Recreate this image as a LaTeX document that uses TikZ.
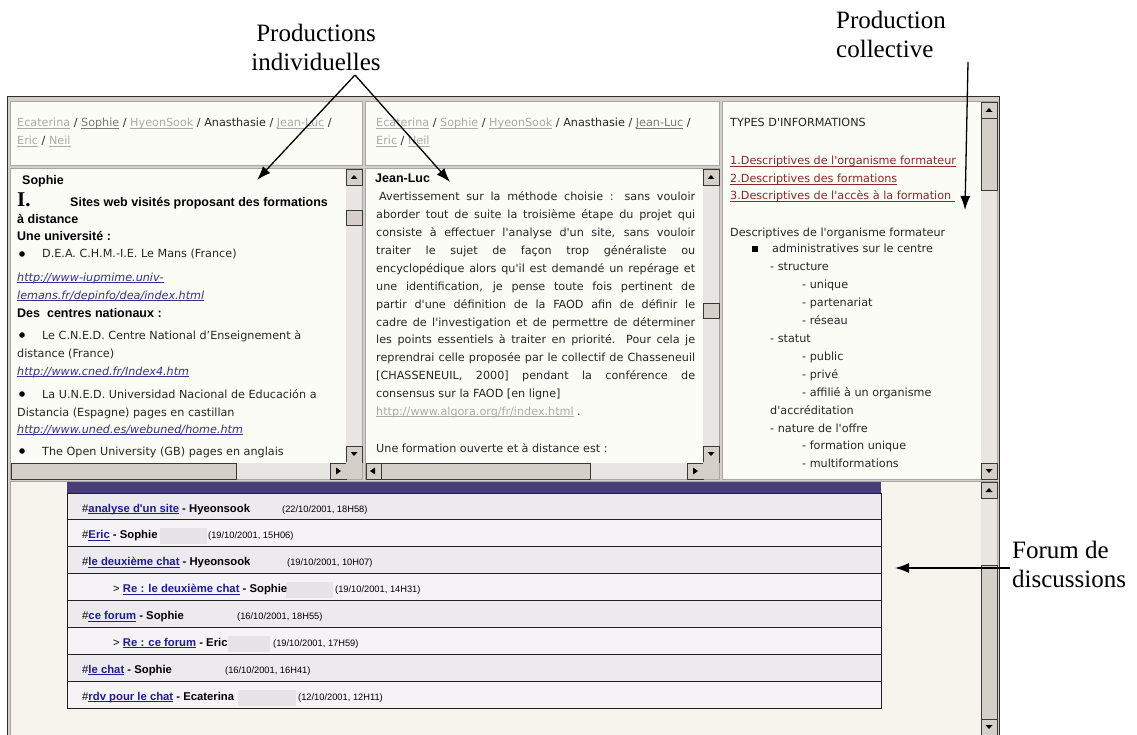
\documentclass[tikz,border=0pt]{standalone}
\usepackage{fontspec}
\newfontfamily\webf{DejaVu Sans}
\newfontfamily\arialf{Liberation Sans}
\newfontfamily\timesf{Liberation Serif}
\usetikzlibrary{arrows.meta}

\definecolor{panebg}{RGB}{252,252,246}
\definecolor{framegray}{RGB}{212,208,200}
\definecolor{trackgray}{RGB}{232,230,226}
\definecolor{linkblue}{RGB}{51,51,140}
\definecolor{linkred}{RGB}{140,40,40}
\definecolor{hdrlight}{RGB}{170,170,170}
\definecolor{hdrmid}{RGB}{120,120,120}
\definecolor{forumbar}{RGB}{72,62,122}
\definecolor{rowa}{RGB}{237,234,239}
\definecolor{rowb}{RGB}{246,243,247}
\definecolor{forumlink}{RGB}{28,28,150}
\definecolor{bottombg}{RGB}{245,245,238}
\definecolor{redact}{RGB}{230,228,231}

\newlength\ulw
\newcommand\ulk[2]{\settowidth\ulw{#2}\textcolor{#1}{\rlap{\rule[-1.6pt]{\ulw}{.7pt}}#2}}
\newcommand\jl[1]{\makebox[319pt][s]{#1}}

% vertical scrollbar: x, top, bottom, thumb top, thumb bottom
\newcommand\vscrl[5]{%
  \fill[trackgray] (#1,#2) rectangle ({#1+16},#3);
  \draw[btn] (#1,#2) rectangle ({#1+16},{#2+16});
  \fill ({#1+8},{#2+6}) -- ({#1+4.5},{#2+10}) -- ({#1+11.5},{#2+10}) -- cycle;
  \draw[btn] (#1,{#3-16}) rectangle ({#1+16},#3);
  \fill ({#1+8},{#3-6}) -- ({#1+4.5},{#3-10}) -- ({#1+11.5},{#3-10}) -- cycle;
  \draw[btn] (#1,#4) rectangle ({#1+16},#5);
}

\begin{document}
\begin{tikzpicture}[x=1pt,y=-1pt,
  pane/.style={fill=panebg,draw=gray!70,line width=.8pt},
  btn/.style={fill=framegray,draw=gray!45!black,line width=.6pt},
  wtxt/.style={anchor=base west,inner sep=0,text=black!85,font=\webf\fontsize{11.2}{13}\selectfont},
  wlink/.style={wtxt,font=\webf\itshape\fontsize{11.2}{13}\selectfont},
  btxt/.style={anchor=base west,inner sep=0,font=\arialf\bfseries\fontsize{12.5}{14}\selectfont},
  ftxt/.style={anchor=base west,inner sep=0,font=\arialf\bfseries\fontsize{11.3}{13}\selectfont},
  fdate/.style={anchor=base west,inner sep=0,font=\arialf\fontsize{9.3}{10}\selectfont},
  lbl/.style={inner sep=0,font=\timesf\fontsize{25}{29}\selectfont},
  arr/.style={line width=1.3pt,-{Latex[length=14pt,width=10pt]}}]

\useasboundingbox (0,0) rectangle (1137,735);
\fill[white] (0,0) rectangle (1137,735);

% browser window
\fill[framegray] (7,96) rectangle (1000,735);
\draw[gray!35!black,line width=1pt] (7.5,735) -- (7.5,96.5) -- (999.5,96.5) -- (999.5,735);

% frames
\draw[pane] (10,101) rectangle (362,165);
\draw[pane] (10,168) rectangle (362,479);
\draw[pane] (365,101) rectangle (719,165);
\draw[pane] (365,168) rectangle (719,479);
\draw[pane] (722,101) rectangle (997,479);
\draw[pane,fill=bottombg] (10,481) rectangle (997,735);

% scrollbars
\vscrl{346}{169}{462}{210}{225}
\fill[trackgray] (11,463) rectangle (346,479);
\draw[btn] (11,463) rectangle (236,479);
\draw[btn] (330,463) rectangle (346,479);
\fill (341,471) -- (336,467.5) -- (336,474.5) -- cycle;
\fill[framegray] (346,462) rectangle (362,479);

\vscrl{703}{169}{462}{303}{318}
\fill[trackgray] (366,463) rectangle (703,479);
\draw[btn] (366,463) rectangle (381,479);
\fill (370,471) -- (375,467.5) -- (375,474.5) -- cycle;
\draw[btn] (381,463) rectangle (590,479);
\draw[btn] (687,463) rectangle (703,479);
\fill (698,471) -- (693,467.5) -- (693,474.5) -- cycle;
\fill[framegray] (703,462) rectangle (719,479);

\vscrl{981}{102}{479}{118}{190}
\vscrl{981}{482}{735}{565}{719}

% headers
\node[wtxt] (h1a) at (17,127) {\ulk{hdrlight}{Ecaterina} / \ulk{hdrmid}{Sophie} / \ulk{hdrlight}{HyeonSook} / Anasthasie / \ulk{hdrlight}{Jean-Luc} /};
\node[wtxt] (h1b) at (17,145) {\ulk{hdrlight}{Eric} / \ulk{hdrlight}{Neil}};
\node[wtxt] (h2a) at (376,127) {\ulk{hdrlight}{Ecaterina} / \ulk{hdrlight}{Sophie} / \ulk{hdrlight}{HyeonSook} / Anasthasie / \ulk{hdrmid}{Jean-Luc} /};
\node[wtxt] (h2b) at (376,145) {\ulk{hdrlight}{Eric} / \ulk{hdrlight}{Neil}};

% Sophie
\node[btxt] (s0) at (22,185) {Sophie};
\node[anchor=base west,inner sep=0,font=\timesf\bfseries\fontsize{21}{21}\selectfont] (s1) at (17,207) {I.};
\node[btxt] (s2) at (70,207) {Sites web visités proposant des formations};
\node[btxt] (s3) at (17,224) {à distance};
\node[btxt] (s4) at (17,241) {Une université :};
\fill (22,254) circle (2.8);
\node[wtxt] (s5) at (42,258) {D.E.A. C.H.M.-I.E. Le Mans (France)};
\node[wlink] (s6) at (17,281) {\ulk{linkblue}{http://www-iupmime.univ-}};
\node[wlink] (s7) at (17,299) {\ulk{linkblue}{lemans.fr/depinfo/dea/index.html}};
\node[btxt] (s8) at (17,317) {Des~ centres nationaux :};
\fill (22,335) circle (2.8);
\node[wtxt] (s9) at (42,339) {Le C.N.E.D. Centre National d’Enseignement à};
\node[wtxt] (s10) at (17,357) {distance (France)};
\node[wlink] (s11) at (17,375) {\ulk{linkblue}{http://www.cned.fr/Index4.htm}};
\fill (22,394) circle (2.8);
\node[wtxt] (s12) at (42,398) {La U.N.E.D. Universidad Nacional de Educación a};
\node[wtxt] (s13) at (17,416) {Distancia (Espagne) pages en castillan};
\node[wlink] (s14) at (17,433) {\ulk{linkblue}{http://www.uned.es/webuned/home.htm}};
\fill (22,451) circle (2.8);
\node[wtxt] (s15) at (42,455) {The Open University (GB) pages en anglais};

% Jean-Luc
\node[btxt] (c0) at (375,183) {Jean-Luc};
\node[wtxt] (c1) at (379,201) {\makebox[316pt][s]{Avertissement sur la méthode choisie : sans vouloir}};
\node[wtxt] (c2) at (376,218.9) {\jl{aborder tout de suite la troisième étape du projet qui}};
\node[wtxt] (c3) at (376,236.7) {\jl{consiste à effectuer l'analyse d'un site, sans vouloir}};
\node[wtxt] (c4) at (376,254.6) {\jl{traiter le sujet de façon trop généraliste ou}};
\node[wtxt] (c5) at (376,272.4) {\jl{encyclopédique alors qu'il est demandé un repérage et}};
\node[wtxt] (c6) at (376,290.3) {\jl{une identification, je pense toute fois pertinent de}};
\node[wtxt] (c7) at (376,308.1) {\jl{partir d'une définition de la FAOD afin de définir le}};
\node[wtxt] (c8) at (376,326) {\jl{cadre de l'investigation et de permettre de déterminer}};
\node[wtxt] (c9) at (376,343.8) {\jl{les points essentiels à traiter en priorité. Pour cela je}};
\node[wtxt] (c10) at (376,361.7) {\jl{reprendrai celle proposée par le collectif de Chasseneuil}};
\node[wtxt] (c11) at (376,379.5) {\jl{[CHASSENEUIL, 2000] pendant la conférence de}};
\node[wtxt] (c12) at (376,397.4) {consensus sur la FAOD [en ligne]};
\node[wtxt] (c13) at (376,415.2) {\ulk{hdrlight}{http://www.algora.org/fr/index.html} .};
\node[wtxt] (c14) at (376,452) {Une formation ouverte et à distance est :};

% production collective
\node[wtxt] (p0) at (730,127) {TYPES D'INFORMATIONS};
\node[wtxt] (p1) at (730,165) {\ulk{linkred}{1.Descriptives de l'organisme formateur}};
\node[wtxt] (p2) at (730,183) {\ulk{linkred}{2.Descriptives des formations}};
\node[wtxt] (p3) at (730,200) {\ulk{linkred}{3.Descriptives de l'accès à la formation\ }};
\node[wtxt] (p4) at (730,237) {Descriptives de l'organisme formateur};
\fill (752,246.5) rectangle (758,252.5);
\node[wtxt] (p5) at (772,253) {administratives sur le centre};
\node[wtxt] (p6) at (770,270) {- structure};
\node[wtxt] (p7) at (802,288) {- unique};
\node[wtxt] (p8) at (802,306) {- partenariat};
\node[wtxt] (p9) at (802,324) {- réseau};
\node[wtxt] (p10) at (770,342) {- statut};
\node[wtxt] (p11) at (802,360) {- public};
\node[wtxt] (p12) at (802,378) {- privé};
\node[wtxt] (p13) at (802,396) {- affilié à un organisme};
\node[wtxt] (p14) at (770,414) {d'accréditation};
\node[wtxt] (p15) at (770,432) {- nature de l'offre};
\node[wtxt] (p16) at (802,449) {- formation unique};
\node[wtxt] (p17) at (802,467) {- multiformations};

% forum
\fill[forumbar] (67,482) rectangle (881,493);
\foreach \i in {0,2,4,6} \fill[rowa] (67,{493+26.9*\i}) rectangle (881,{493+26.9*(\i+1)});
\foreach \i in {1,3,5,7} \fill[rowb] (67,{493+26.9*\i}) rectangle (881,{493+26.9*(\i+1)});
\fill[redact] (160,528) rectangle (207,544);
\fill[redact] (286,582) rectangle (333,598);
\fill[redact] (228,636) rectangle (270,652);
\fill[redact] (238,690) rectangle (296,706);
\foreach \i in {1,...,7} \draw[gray!25!black,line width=1pt] (67,{493+26.9*\i}) -- (881,{493+26.9*\i});
\draw[gray!25!black,line width=1pt] (67,493) rectangle (881,708.2);

\node[ftxt] (r1) at (82,512) {{\mdseries\#}\ulk{forumlink}{analyse d'un site} - Hyeonsook};
\node[fdate] (d1) at (282,512) {(22/10/2001, 18H58)};
\node[ftxt] (r2) at (82,538.9) {{\mdseries\#}\ulk{forumlink}{Eric} - Sophie};
\node[fdate] (d2) at (208,538.9) {(19/10/2001, 15H06)};
\node[ftxt] (r3) at (82,565.8) {{\mdseries\#}\ulk{forumlink}{le deuxième chat} - Hyeonsook};
\node[fdate] (d3) at (287,565.8) {(19/10/2001, 10H07)};
\node[ftxt] (r4) at (113,592.7) {{\mdseries >} \ulk{forumlink}{Re : le deuxième chat} - Sophie};
\node[fdate] (d4) at (335,592.7) {(19/10/2001, 14H31)};
\node[ftxt] (r5) at (82,619.6) {{\mdseries\#}\ulk{forumlink}{ce forum} - Sophie};
\node[fdate] (d5) at (237,619.6) {(16/10/2001, 18H55)};
\node[ftxt] (r6) at (113,646.5) {{\mdseries >} \ulk{forumlink}{Re : ce forum} - Eric};
\node[fdate] (d6) at (273,646.5) {(19/10/2001, 17H59)};
\node[ftxt] (r7) at (82,673.4) {{\mdseries\#}\ulk{forumlink}{le chat} - Sophie};
\node[fdate] (d7) at (225,673.4) {(16/10/2001, 16H41)};
\node[ftxt] (r8) at (82,700.3) {{\mdseries\#}\ulk{forumlink}{rdv pour le chat} - Ecaterina};
\node[fdate] (d8) at (298,700.3) {(12/10/2001, 12H11)};

% labels and arrows
\node[lbl,align=center,anchor=north] (prodind) at (316,24) {Productions\\individuelles};
\node[lbl,align=left,anchor=north west] (prodcol) at (836,11) {Production\\collective};
\node[lbl,align=left,anchor=north west] (forum) at (1012,541) {Forum de\\discussions};

\coordinate (apex) at (355,75);
\coordinate (tipS) at (257,180);
\coordinate (tipJ) at (450,182);
\coordinate (colTop) at (968,62);
\coordinate (colTip) at (965,210);
\coordinate (forStart) at (1010,568);
\coordinate (forTip) at (895,568);
\draw[arr] (apex) -- (tipS);
\draw[arr] (apex) -- (tipJ);
\draw[arr] (colTop) -- (colTip);
\draw[arr] (forStart) -- (forTip);

\end{tikzpicture}
\end{document}
